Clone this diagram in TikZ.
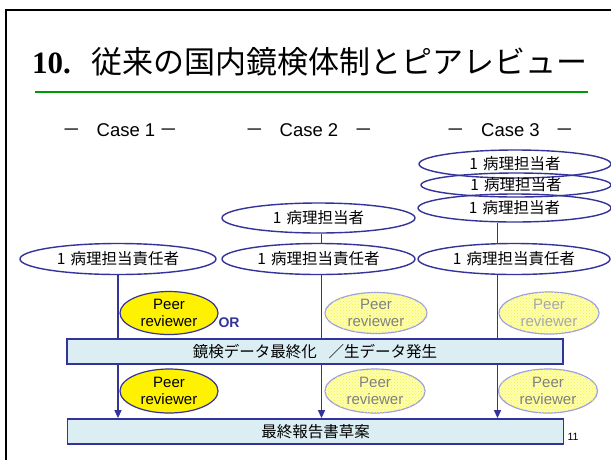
\documentclass[tikz,border=0pt]{standalone}
\usepackage{fontspec}
\setmainfont{Liberation Sans}
\newfontfamily\jp{Noto Sans CJK JP}
\newfontfamily\tms{Liberation Serif}
\usetikzlibrary{shapes.geometric,arrows.meta,backgrounds,patterns}
\definecolor{nv}{HTML}{333399}
\definecolor{barfill}{HTML}{DAEEF3}
\definecolor{fadeline}{HTML}{9C9CE2}
\definecolor{paley}{HTML}{FFFFB0}
\definecolor{doty}{HTML}{F2F240}
\definecolor{grn}{HTML}{009900}
\definecolor{ftext}{HTML}{808080}
\definecolor{ftextl}{HTML}{A8A8A8}
\newcommand\dsh{{\jp －}}
\begin{document}
\begin{tikzpicture}[x=1pt,y=-1pt,
  role/.style={ellipse, draw=nv, line width=1.4pt, inner sep=0pt,
    font=\jp\fontsize{15.5}{17}\selectfont},
  peerbase/.style={ellipse, line width=1.2pt, inner sep=0pt, align=center,
    font=\fontsize{15}{17}\selectfont},
  peer/.style={peerbase, draw=nv, fill=yellow},
  fpeer/.style={peerbase, draw=fadeline, fill=paley,
    postaction={pattern=crosshatch dots, pattern color=doty}, text=ftext},
  bar/.style={rectangle, draw=nv, line width=1.8pt, fill=barfill,
    minimum width=496pt, minimum height=25pt, inner sep=0pt,
    font=\jp\fontsize{15.5}{17}\selectfont},
  caselbl/.style={inner sep=0pt, anchor=base, font=\fontsize{18.5}{20}\selectfont},
  conn/.style={draw=nv, line width=1.4pt},
  arr/.style={conn, -{Triangle[width=7pt,length=8pt]}}]
\useasboundingbox (0,0) rectangle (611,459);
\begin{pgfonlayer}{background}
\fill[white] (0,0) rectangle (611,459);
\end{pgfonlayer}
% frame
\draw[line width=2pt] (6,460) -- (6,10) -- (612,10);
% title
\node[anchor=base west, inner sep=0pt] (title) at (32,73)
  {\fontsize{31}{31}\selectfont\tms\bfseries 10.\hspace{21pt}{\jp\mdseries 従来の国内鏡検体制とピアレビュー}};
\draw[grn, line width=2pt] (35,92) -- (588,92);
% case labels
\node[caselbl] (case1) at (120,136) {\dsh\hspace{16pt}Case 1\hspace{4pt}\dsh};
\node[caselbl] (case2) at (309,136) {\dsh\hspace{16pt}Case 2\hspace{16pt}\dsh};
\node[caselbl] (case3) at (510.5,136) {\dsh\hspace{16pt}Case 3\hspace{16pt}\dsh};
% role ellipses
\node[role, minimum width=196pt, minimum height=31pt] (c1r) at (118,259) {1\hspace{5pt}病理担当責任者};
\node[role, minimum width=193pt, minimum height=30pt] (c2a) at (318.5,218) {1\hspace{5pt}病理担当者};
\node[role, minimum width=193pt, minimum height=31pt] (c2r) at (318.5,259) {1\hspace{5pt}病理担当責任者};
\node[role, minimum width=192pt, minimum height=28pt] (c3a) at (515,164) {1\hspace{5pt}病理担当者};
\node[role, minimum width=190pt, minimum height=24pt] (c3b) at (516,185) {1\hspace{5pt}病理担当者};
\node[role, minimum width=193pt, minimum height=28pt] (c3c) at (514.5,208) {1\hspace{5pt}病理担当者};
\node[role, minimum width=192pt, minimum height=31pt] (c3r) at (514,259) {1\hspace{5pt}病理担当責任者};
% bars
\node[bar] (bar1) at (315,351.5) {鏡検データ最終化\hspace{12pt}／生データ発生};
\node[bar] (bar2) at (315.5,431.5) {最終報告書草案};
% connectors
\coordinate (x1) at (118,0);
\coordinate (x2) at (321.5,0);
\coordinate (x3) at (497.5,0);
\begin{pgfonlayer}{background}
\draw[arr] (c1r.south -| x1) -- (bar2.north -| x1);
\draw[conn] (c2a.south -| x2) -- (c2r.north -| x2);
\draw[arr] (c2r.south -| x2) -- (bar2.north -| x2);
\draw[conn] (c3c.south -| x3) -- (c3r.north -| x3);
\draw[arr] (c3r.south -| x3) -- (bar2.north -| x3);
\end{pgfonlayer}
% peer reviewers
\node[peer, minimum width=98pt, minimum height=43pt] (p1a) at (169,313) {Peer\\reviewer};
\node[peer, minimum width=98pt, minimum height=44pt] (p1b) at (169,391) {Peer\\reviewer};
\node[fpeer, minimum width=102pt, minimum height=41pt] (p2a) at (376,313) {Peer\\reviewer};
\node[fpeer, minimum width=100pt, minimum height=44pt] (p2b) at (375,391) {Peer\\reviewer};
\node[fpeer, text=ftextl, minimum width=100pt, minimum height=42pt] (p3a) at (549,313) {Peer\\reviewer};
\node[fpeer, minimum width=99pt, minimum height=44pt] (p3b) at (548,391) {Peer\\reviewer};
% OR and page number
\node[inner sep=0pt, text=nv, font=\bfseries\fontsize{14}{14}\selectfont] (or) at (229,323) {OR};
\node[inner sep=0pt, font=\fontsize{10.5}{11}\selectfont] (pg) at (573,436.5) {11};
\end{tikzpicture}
\end{document}
